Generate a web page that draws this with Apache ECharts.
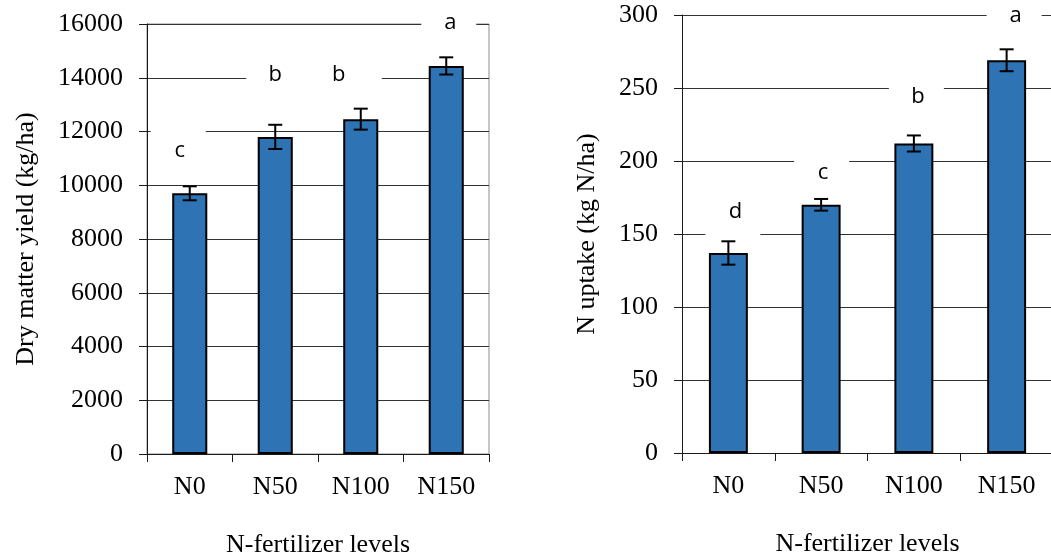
<!DOCTYPE html>
<html>
<head>
<meta charset="utf-8">
<script src="https://cdn.jsdelivr.net/npm/echarts@6/dist/echarts.min.js"></script>
<style>
html,body{margin:0;padding:0;background:#fff;}
#chart{width:1051px;height:557px;}
</style>
</head>
<body>
<div id="chart"></div>
<script>
// ---- data ----
const categories = ['N0', 'N50', 'N100', 'N150'];
const dmYield = [9700, 11800, 12460, 14440];
const dmErr = [260, 450, 390, 320];
const dmLetters = ['c', 'b', 'b', 'a'];
const dmLetterY = [11300, 14100, 14100, 16040];
const nUptake = [137, 170, 212, 269];
const nErr = [8, 4, 5.5, 7.5];
const nLetters = ['d', 'c', 'b', 'a'];
const nLetterY = [165, 192, 244, 299.5];

// ---- layout (pixel offsets, not data) ----
const dmLetterDx = [-10, 0, -22, 4];
const dmBox = [[-29, 26], [-29, 36], [-28, 43], [-29, 26]];
const nLetterDx = [7, 2, 4, 9];
const nBox = [[-30, 25], [-29, 26], [-29, 26], [-29, 26]];

const serif = '"Liberation Serif", "Times New Roman", serif';
const sans = '"Open Sans", "Noto Sans", sans-serif';
const barColor = '#2E74B5';
const axisColor = '#1a1a1a';
const gridColor = '#333333';

function errItem(err) {
  return function (params, api) {
    const i = api.value(0);
    const v = api.value(1);
    const e = err[params.dataIndex];
    const top = api.coord([i, v + e]);
    const bot = api.coord([i, v - e]);
    const hw = 7;
    const st = { stroke: '#000', lineWidth: 2 };
    return {
      type: 'group',
      children: [
        { type: 'line', shape: { x1: top[0], y1: top[1], x2: bot[0], y2: bot[1] }, style: st },
        { type: 'line', shape: { x1: top[0] - hw, y1: top[1], x2: top[0] + hw, y2: top[1] }, style: st },
        { type: 'line', shape: { x1: bot[0] - hw, y1: bot[1], x2: bot[0] + hw, y2: bot[1] }, style: st }
      ]
    };
  };
}

function letterItem(letters, dx, box) {
  return function (params, api) {
    const k = params.dataIndex;
    const p = api.coord([api.value(0), api.value(1)]);
    const x = p[0] + dx[k];
    const y = p[1];
    return {
      type: 'group',
      children: [
        { type: 'rect', shape: { x: x + box[k][0], y: y - 22, width: box[k][1] - box[k][0], height: 47 },
          style: { fill: '#fff' } },
        { type: 'text', x: x, y: y,
          style: { text: letters[k], font: '22px ' + sans, fill: '#000', align: 'center', verticalAlign: 'middle' } }
      ]
    };
  };
}

const chart = echarts.init(document.getElementById('chart'), null, { renderer: 'canvas' });

const option = {
  backgroundColor: '#fff',
  animation: false,
  grid: [
    { left: 147, top: 24, width: 342, height: 430, outerBoundsMode: 'none', containLabel: false,
      show: true, borderColor: '#8c8c8c', borderWidth: 1, backgroundColor: 'transparent' },
    { left: 682, top: 15, width: 371, height: 438, outerBoundsMode: 'none', containLabel: false }
  ],
  xAxis: [0, 1].map(g => ({
    type: 'category',
    gridIndex: g,
    data: categories,
    boundaryGap: true,
    axisLine: { show: true, lineStyle: { color: axisColor, width: 1 } },
    axisTick: { show: true, length: 8, interval: 0, alignWithLabel: false, lineStyle: { color: axisColor } },
    axisLabel: { color: '#000', fontFamily: serif, fontSize: 26, margin: 20, interval: 0 },
    name: 'N-fertilizer levels',
    nameLocation: 'middle',
    nameGap: 78,
    nameTextStyle: { color: '#000', fontFamily: serif, fontSize: 26 },
    splitLine: { show: false }
  })),
  yAxis: [
    {
      type: 'value', gridIndex: 0, min: 0, max: 16000, interval: 2000,
      axisLine: { show: true, lineStyle: { color: axisColor, width: 1 } },
      axisTick: { show: true, length: 8, lineStyle: { color: axisColor } },
      axisLabel: { color: '#000', fontFamily: serif, fontSize: 26, margin: 24, formatter: v => String(v) },
      splitLine: { show: true, lineStyle: { color: gridColor, width: 1 } },
      name: 'Dry matter yield (kg/ha)', nameLocation: 'middle', nameGap: 108,
      nameTextStyle: { color: '#000', fontFamily: serif, fontSize: 26 }
    },
    {
      type: 'value', gridIndex: 1, min: 0, max: 300, interval: 50,
      axisLine: { show: true, lineStyle: { color: axisColor, width: 1 } },
      axisTick: { show: true, length: 8, lineStyle: { color: axisColor } },
      axisLabel: { color: '#000', fontFamily: serif, fontSize: 26, margin: 24, formatter: v => String(v) },
      splitLine: { show: true, lineStyle: { color: gridColor, width: 1 } },
      name: 'N uptake (kg N/ha)', nameLocation: 'middle', nameGap: 82,
      nameTextStyle: { color: '#000', fontFamily: serif, fontSize: 26 }
    }
  ],
  series: [
    { type: 'custom', xAxisIndex: 0, yAxisIndex: 0, clip: false, z: 1,
      renderItem: letterItem(dmLetters, dmLetterDx, dmBox),
      data: categories.map((c, i) => [i, dmLetterY[i]]) },
    { type: 'bar', xAxisIndex: 0, yAxisIndex: 0, data: dmYield, barWidth: '41%', z: 2,
      itemStyle: { color: barColor, borderColor: '#000', borderWidth: 2 } },
    { type: 'custom', xAxisIndex: 0, yAxisIndex: 0, clip: false, z: 3,
      renderItem: errItem(dmErr),
      data: dmYield.map((v, i) => [i, v]) },

    { type: 'custom', xAxisIndex: 1, yAxisIndex: 1, clip: false, z: 1,
      renderItem: letterItem(nLetters, nLetterDx, nBox),
      data: categories.map((c, i) => [i, nLetterY[i]]) },
    { type: 'bar', xAxisIndex: 1, yAxisIndex: 1, data: nUptake, barWidth: '42%', z: 2,
      itemStyle: { color: barColor, borderColor: '#000', borderWidth: 2 } },
    { type: 'custom', xAxisIndex: 1, yAxisIndex: 1, clip: false, z: 3,
      renderItem: errItem(nErr),
      data: nUptake.map((v, i) => [i, v]) }
  ]
};
chart.setOption(option);
</script>
</body>
</html>
